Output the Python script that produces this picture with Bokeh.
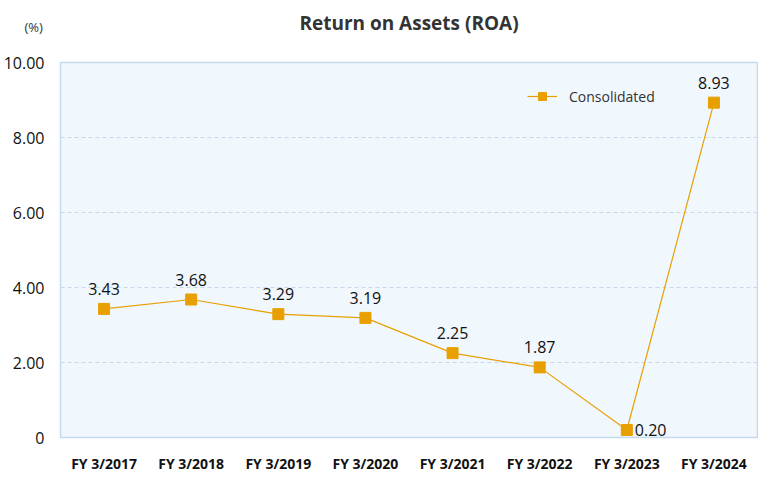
from bokeh.plotting import figure
from bokeh.models import ColumnDataSource, Title, Legend, LegendItem, FixedTicker, Range1d, FactorRange
from bokeh.embed import file_html
from bokeh.resources import INLINE
from bokeh.core.properties import value

categories = ["FY 3/2017", "FY 3/2018", "FY 3/2019", "FY 3/2020", "FY 3/2021", "FY 3/2022", "FY 3/2023", "FY 3/2024"]
roa = [3.43, 3.68, 3.29, 3.19, 2.25, 1.87, 0.20, 8.93]
y_ticks = [0, 2, 4, 6, 8, 10]
y_tick_labels = ["0", "2.00", "4.00", "6.00", "8.00", "10.00"]
series_name = "Consolidated"
unit_text = "(%)"
chart_title = "Return on Assets (ROA)"

ORANGE = "#E8A000"
FONT = "Open Sans"

labels_txt = [f"{v:.2f}" for v in roa]
x_off = [0] * len(roa)
y_off = [-14] * len(roa)
align = ["center"] * len(roa)
base = ["bottom"] * len(roa)
x_off[6] = 8
y_off[6] = 0
align[6] = "left"
base[6] = "middle"

src = ColumnDataSource(dict(x=categories, y=roa, t=labels_txt, xo=x_off, yo=y_off, al=align, bl=base))

p = figure(frame_width=697, frame_height=375, x_range=FactorRange(*categories), y_range=Range1d(0, 10),
           output_backend="svg", toolbar_location=None,
           min_border_left=50, min_border_right=1, min_border_top=62, min_border_bottom=36)

p.border_fill_color = "white"
p.background_fill_color = "#F0F7FD"
p.outline_line_color = "#C5D9EE"
p.outline_line_width = 1.5

# stacked header rows (closest to the frame first): spacer, unit label, then main title
spacer = Title(text=" ", standoff=24, text_font=FONT, text_font_size="1px")
p.add_layout(spacer, "above")
unit_title = Title(text=unit_text, align="left", offset=-36, standoff=0,
                   text_font=FONT, text_font_size="13px", text_font_style="normal",
                   text_color="#333333")
p.add_layout(unit_title, "above")

p.title.text = chart_title
p.title.align = "center"
p.title.text_font = FONT
p.title.text_font_size = "19px"
p.title.text_font_style = "bold"
p.title.text_color = "#333333"
p.title.offset = 0
p.title.standoff = -40

p.xgrid.grid_line_color = None
p.ygrid.grid_line_color = "#C8D8EA"
p.ygrid.grid_line_dash = "4 3"
p.ygrid.grid_line_width = 1

p.yaxis.ticker = FixedTicker(ticks=y_ticks)
p.yaxis.major_label_overrides = {t: l for t, l in zip(y_ticks, y_tick_labels)}
p.yaxis.axis_line_color = None
p.yaxis.major_tick_line_color = None
p.yaxis.minor_tick_line_color = None
p.yaxis.major_label_text_font = FONT
p.yaxis.major_label_text_font_size = "16px"
p.yaxis.major_label_text_color = "#111111"
p.yaxis.major_label_standoff = 10

p.xaxis.axis_line_color = None
p.xaxis.major_tick_line_color = None
p.xaxis.minor_tick_line_color = None
p.xaxis.major_label_text_font = FONT
p.xaxis.major_label_text_font_size = "14px"
p.xaxis.major_label_text_font_style = "bold"
p.xaxis.major_label_text_color = "#111111"
p.xaxis.major_label_standoff = 10

ln = p.line("x", "y", source=src, line_color=ORANGE, line_width=1.2)
mk = p.scatter("x", "y", source=src, marker="square", size=11, fill_color=ORANGE, line_color=ORANGE)

p.text("x", "y", text="t", source=src, x_offset="xo", y_offset="yo",
       text_align="al", text_baseline="bl",
       text_font=value(FONT), text_font_size="16px", text_color="#111111")

legend = Legend(items=[LegendItem(label=series_name, renderers=[ln, mk])],
                location=(467, 331), orientation="horizontal")
legend.background_fill_alpha = 0
legend.border_line_color = None
legend.label_text_font = FONT
legend.label_text_font_size = "14px"
legend.label_text_color = "#333333"
legend.glyph_width = 30
legend.label_standoff = 12
legend.margin = 0
legend.padding = 0
p.add_layout(legend)

open("out.html", "w").write(file_html(p, INLINE))
